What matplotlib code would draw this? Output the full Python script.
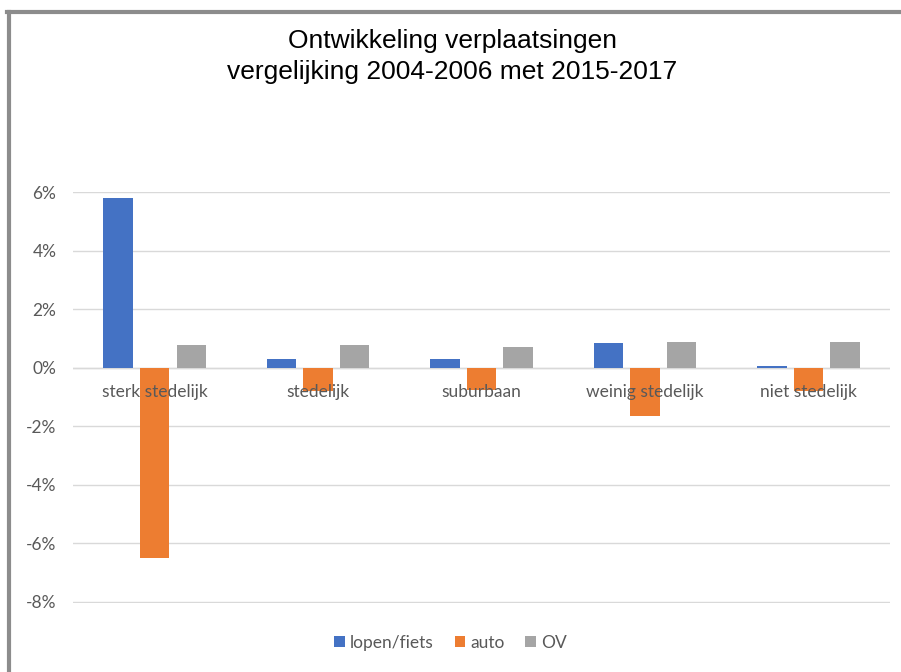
import numpy as np
import matplotlib.pyplot as plt
from matplotlib.lines import Line2D

# data
categories = ['sterk stedelijk', 'stedelijk', 'suburbaan', 'weinig stedelijk', 'niet stedelijk']
lopen_fiets = [5.8, 0.3, 0.3, 0.85, 0.05]
auto = [-6.5, -0.8, -0.75, -1.65, -0.8]
ov = [0.8, 0.8, 0.7, 0.9, 0.9]
series_names = ['lopen/fiets', 'auto', 'OV']
yticks = [-8, -6, -4, -2, 0, 2, 4, 6]

colors = ['#4472C4', '#ED7D31', '#A5A5A5']
label_color = '#595959'
font = ['Lato', 'DejaVu Sans']
fs = 12.5

fig = plt.figure(figsize=(9.01, 6.72), dpi=100)
ax = fig.add_axes([0.081, 0.103, 0.907, 0.612])

x = np.arange(len(categories))
offset = 0.224
width = 0.18
for k, vals in enumerate([lopen_fiets, auto, ov]):
    ax.bar(x + (k - 1) * offset, vals, width, color=colors[k], label=series_names[k], zorder=3)

ax.set_xlim(-0.5, len(categories) - 0.5)
ax.set_ylim(-8.03, 6.03)
ax.set_yticks(yticks)
ax.set_yticklabels([f'{t}%' for t in yticks], fontsize=fs, color=label_color, family=font)
ax.tick_params(axis='y', length=0, pad=12)
ax.set_xticks([])
ax.grid(axis='y', color='#D9D9D9', linewidth=1, zorder=0)
ax.axhline(0, color='#D9D9D9', linewidth=1, zorder=1)
for s in ax.spines.values():
    s.set_visible(False)

# category labels sit just under the zero line, drawn over the bars
for i, c in enumerate(categories):
    ax.annotate(c, (i, 0), xytext=(0, -24), textcoords='offset pixels',
                ha='center', va='center', fontsize=fs, color=label_color, family=font, zorder=5)

fig.suptitle('Ontwikkeling verplaatsingen\nvergelijking 2004-2006 met 2015-2017',
             x=0.502, y=0.957, fontsize=19, family=['Liberation Sans', 'DejaVu Sans'],
             linespacing=1.4, va='top')

leg = fig.legend(loc='center', bbox_to_anchor=(0.5, 0.043), ncol=3, frameon=False,
                 handlelength=0.6, handleheight=0.6, handletextpad=0.3, columnspacing=1.2,
                 prop={'family': font, 'size': fs})
for t in leg.get_texts():
    t.set_color(label_color)

# figure border (top and left edges visible)
fig.add_artist(Line2D([0.0095, 0.0095], [0, 0.982], color='#8C8C8C', linewidth=3, transform=fig.transFigure))
fig.add_artist(Line2D([0.008, 1], [0.982, 0.982], color='#8C8C8C', linewidth=3, transform=fig.transFigure))

fig.savefig('out.png', dpi=100)
